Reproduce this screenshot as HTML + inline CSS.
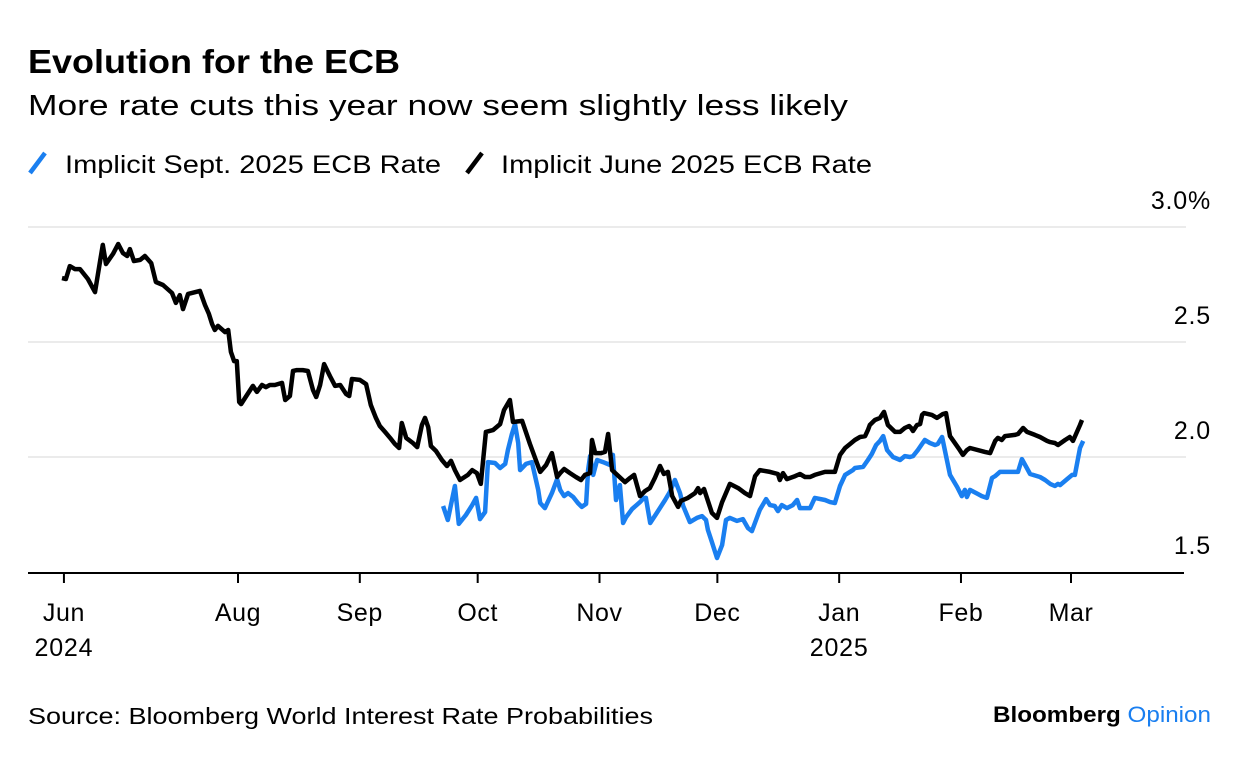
<!DOCTYPE html>
<html><head><meta charset="utf-8"><style>
body{margin:0;background:#fff;}
svg{display:block;font-family:"Liberation Sans",sans-serif;}
</style></head><body>
<svg width="1240" height="758" viewBox="0 0 1240 758">
<text x="28" y="73" font-size="33" font-weight="bold" fill="#000" textLength="372" lengthAdjust="spacingAndGlyphs">Evolution for the ECB</text>
<text x="28" y="115" font-size="29" fill="#000" textLength="820" lengthAdjust="spacingAndGlyphs">More rate cuts this year now seem slightly less likely</text>
<g>
<line x1="30" y1="173" x2="45" y2="153" stroke="#1a7ff0" stroke-width="4.5"/>
<text x="65" y="173" font-size="25" textLength="376" lengthAdjust="spacingAndGlyphs">Implicit Sept. 2025 ECB Rate</text>
<line x1="467" y1="173" x2="482" y2="153" stroke="#000" stroke-width="4.5"/>
<text x="501" y="173" font-size="25" textLength="371" lengthAdjust="spacingAndGlyphs">Implicit June 2025 ECB Rate</text>
</g>
<g id="grid"></g>
<g id="series"></g>
<g id="xaxis"></g>
<text x="28" y="724" font-size="23" textLength="625" lengthAdjust="spacingAndGlyphs">Source: Bloomberg World Interest Rate Probabilities</text>
<text x="993" y="722" font-size="22" font-weight="bold" textLength="218" lengthAdjust="spacingAndGlyphs">Bloomberg <tspan fill="#1a7ff0" font-weight="normal">Opinion</tspan></text>
</svg>
<script>
const yTicks=[1.5,2.0,2.5,3.0];
const yTickLabels=["1.5","2.0","2.5","3.0%"];
const xTickDays=[16.7,61,92,122,153,183,214,245,273];
const xTickLabels=["Jun","Aug","Sep","Oct","Nov","Dec","Jan","Feb","Mar"];
const xTickYears=["2024","","","","","","2025","",""];
const juneDays=[16.2,17.2,18.2,19.5,20.8,22.8,24.6,25.9,26.6,27.4,29.2,30.5,31.7,32.8,33.5,34.5,36.1,37.3,38.9,40.1,41.9,44.2,45.2,46.2,47.0,48.3,51.3,52.6,53.6,54.4,55.1,55.9,57.7,58.5,59.2,60.0,60.7,61.3,61.8,62.8,64.8,65.8,67.1,68.1,69.1,70.4,72.2,73.0,74.2,75.0,76.0,77.5,78.8,80.1,80.9,81.9,82.9,84.4,85.7,87.0,88.5,89.3,90.0,92.0,93.6,94.8,96.1,97.1,98.4,99.7,100.9,102.0,102.7,103.8,105.5,106.6,107.8,108.6,109.4,110.1,111.4,112.9,114.2,115.2,116.2,117.5,119.5,120.6,121.8,122.8,124.1,125.9,127.7,128.7,130.2,131.0,133.3,135.3,137.9,139.4,140.9,142.2,143.0,144.0,145.5,147.0,148.3,149.3,150.6,151.1,151.9,153.4,154.4,155.2,156.2,159.5,160.8,161.8,163.3,164.6,165.8,167.1,168.4,169.4,170.4,171.5,173.0,173.7,175.5,177.3,178.1,178.6,179.6,181.6,182.9,184.2,186.2,188.3,190.0,191.3,192.6,193.8,196.4,198.4,198.9,199.7,200.7,202.8,204.0,205.3,206.6,207.8,210.4,211.7,212.9,214.2,215.5,216.8,218.0,219.3,220.6,221.3,221.8,223.1,224.4,225.4,226.4,228.2,229.5,230.7,231.8,232.3,232.8,233.8,234.6,235.1,235.6,237.6,238.9,240.4,241.2,242.2,244.7,245.5,246.5,247.3,251.1,252.4,253.7,254.4,255.4,256.2,258.7,259.5,260.8,261.8,263.8,265.1,266.9,267.7,268.9,269.7,271.5,272.7,273.5,275.3,275.8];
const juneValues=[2.778,2.774,2.830,2.817,2.817,2.774,2.717,2.852,2.922,2.839,2.883,2.926,2.887,2.874,2.904,2.852,2.857,2.874,2.843,2.761,2.748,2.713,2.670,2.704,2.643,2.709,2.722,2.661,2.622,2.578,2.552,2.570,2.543,2.552,2.457,2.417,2.417,2.239,2.230,2.257,2.309,2.283,2.313,2.304,2.313,2.313,2.322,2.248,2.265,2.374,2.378,2.378,2.374,2.291,2.261,2.313,2.404,2.352,2.309,2.313,2.274,2.265,2.339,2.335,2.317,2.226,2.170,2.135,2.109,2.083,2.057,2.039,2.148,2.083,2.061,2.043,2.139,2.170,2.130,2.048,2.026,1.987,1.961,1.983,1.943,1.900,1.922,1.943,1.930,1.883,2.109,2.117,2.143,2.204,2.248,2.152,2.157,2.057,1.935,1.965,2.017,1.913,1.930,1.948,1.930,1.913,1.900,1.922,1.930,2.074,2.017,2.017,2.022,2.100,1.943,1.891,1.909,1.922,1.830,1.852,1.865,1.909,1.961,1.926,1.935,1.830,1.783,1.809,1.822,1.843,1.865,1.843,1.861,1.757,1.735,1.804,1.883,1.865,1.843,1.830,1.917,1.943,1.935,1.926,1.900,1.930,1.904,1.917,1.926,1.913,1.913,1.922,1.935,1.935,1.935,2.009,2.039,2.057,2.074,2.087,2.091,2.117,2.139,2.161,2.170,2.196,2.139,2.109,2.109,2.126,2.135,2.126,2.113,2.139,2.143,2.183,2.191,2.183,2.170,2.187,2.191,2.091,2.030,2.009,2.030,2.039,2.022,2.017,2.070,2.083,2.074,2.091,2.096,2.100,2.126,2.109,2.096,2.087,2.070,2.065,2.061,2.052,2.074,2.087,2.070,2.139,2.161];
const septDays=[113.2,114.4,116.2,117.2,119.0,120.6,121.6,122.6,123.9,124.6,126.4,127.7,129.0,129.7,130.7,131.5,132.3,132.8,134.3,135.8,137.4,137.9,139.1,140.9,142.2,143.0,144.0,145.0,146.3,147.5,148.5,149.6,150.1,150.6,151.4,152.4,153.9,155.7,156.4,157.2,158.2,159.0,159.8,161.3,163.3,164.3,164.8,165.9,167.4,169.7,170.9,172.2,173.5,174.3,176.0,177.8,179.1,180.1,180.6,181.6,182.9,184.2,185.2,186.2,188.0,189.5,190.8,191.8,193.8,195.4,196.4,197.6,198.4,199.4,200.7,202.2,203.3,204.0,206.6,207.8,210.4,211.7,212.9,214.2,215.5,217.5,218.0,220.1,221.3,222.3,223.4,224.4,225.2,226.2,227.7,229.5,230.7,232.0,232.8,234.0,235.1,235.8,237.1,238.4,239.1,240.2,242.2,244.0,245.2,246.0,246.5,247.3,249.3,250.3,251.6,252.9,253.7,254.9,256.7,258.0,259.5,260.5,262.6,265.1,266.4,267.7,268.9,269.7,270.2,272.0,273.3,274.0,275.3,276.1];
const septValues=[1.787,1.726,1.874,1.709,1.748,1.791,1.822,1.730,1.761,1.978,1.974,1.952,1.970,2.030,2.100,2.143,2.061,1.943,1.970,1.978,1.857,1.800,1.778,1.843,1.904,1.857,1.830,1.843,1.826,1.800,1.783,1.796,1.943,2.004,1.922,1.987,1.978,1.965,2.009,1.813,1.878,1.713,1.739,1.774,1.804,1.822,1.822,1.713,1.752,1.813,1.848,1.900,1.843,1.787,1.717,1.735,1.743,1.726,1.683,1.630,1.561,1.617,1.726,1.735,1.722,1.730,1.691,1.678,1.770,1.817,1.791,1.787,1.765,1.791,1.778,1.791,1.813,1.778,1.778,1.822,1.813,1.804,1.800,1.874,1.922,1.943,1.952,1.957,1.987,2.013,2.052,2.070,2.091,2.030,2.000,1.987,2.004,2.000,2.004,2.030,2.057,2.074,2.061,2.052,2.057,2.087,1.922,1.870,1.830,1.857,1.826,1.857,1.839,1.830,1.822,1.909,1.917,1.935,1.935,1.935,1.935,1.991,1.926,1.913,1.900,1.883,1.874,1.883,1.878,1.904,1.922,1.922,2.039,2.070];

const NS="http://www.w3.org/2000/svg";
function xS(d){return 238+(d-61)*(833/212);}
function yS(v){return 457-(v-2.0)*230;}
function mk(tag,attrs,parent){const e=document.createElementNS(NS,tag);for(const k in attrs)e.setAttribute(k,attrs[k]);parent.appendChild(e);return e;}
const grid=document.getElementById('grid');
yTicks.forEach((v,i)=>{
  if(v>1.5){
    const l=mk('line',{x1:28,x2:1186,y1:yS(v),y2:yS(v),stroke:'#ebebeb','stroke-width':2},grid);
    
    
  }
  const t=mk('text',{x:1211,y:yS(v)-18,'font-size':25,'text-anchor':'end','letter-spacing':'0.8'},grid);
  t.textContent=yTickLabels[i];
  
  
});
const ser=document.getElementById('series');
function line(days,vals,color,name){
  const d=days.map((x,i)=>(i?'L':'M')+xS(x).toFixed(1)+','+yS(vals[i]).toFixed(1)).join('');
  const p=mk('path',{d:d,fill:'none',stroke:color,'stroke-width':4.5,'stroke-linejoin':'round','stroke-linecap':'butt'},ser);
  
  
}
line(septDays,septValues,'#1a7ff0','series-sept-2025');
line(juneDays,juneValues,'#000','series-june-2025');
const xa=document.getElementById('xaxis');
const ax=mk('line',{x1:28,x2:1184,y1:573,y2:573,stroke:'#000','stroke-width':2},xa);


xTickDays.forEach((d,i)=>{
  const x=xS(d);
  const tk=mk('line',{x1:x,x2:x,y1:573,y2:583,stroke:'#000','stroke-width':2},xa);
  
  
  const t=mk('text',{x:x,y:621,'font-size':25,'text-anchor':'middle','letter-spacing':'0.6'},xa);
  t.textContent=xTickLabels[i];
  
  
  if(xTickYears[i]){
    const y=mk('text',{x:x,y:656,'font-size':25,'text-anchor':'middle','letter-spacing':'0.8'},xa);
    y.textContent=xTickYears[i];
    
    
  }
});
</script>
</body></html>
